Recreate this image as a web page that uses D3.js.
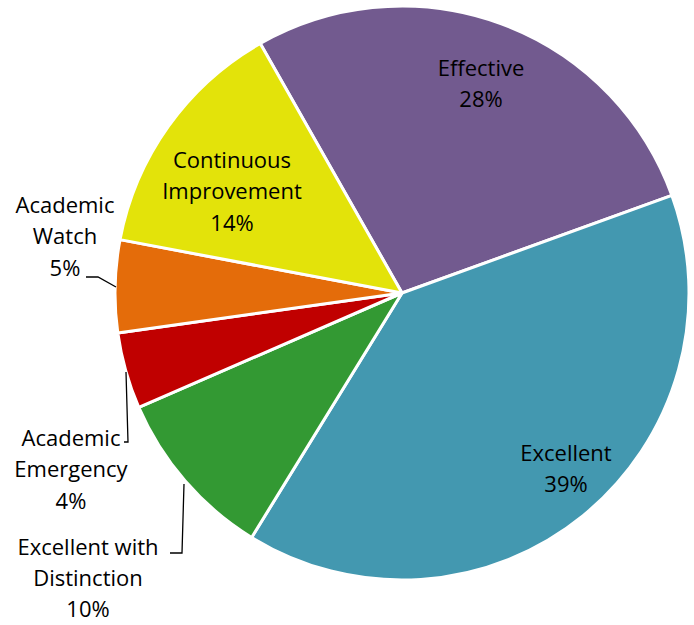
<!DOCTYPE html>
<html>
<head>
<meta charset="utf-8">
<script src="https://cdn.jsdelivr.net/npm/d3@7"></script>
<style>
  body { margin: 0; background: #fff; }
  text { font-family: "Open Sans", Lato, sans-serif; font-size: 22px; fill: #000; }
</style>
</head>
<body>
<div id="chart"></div>
<script>
// data (clockwise from the Effective slice)
const categories = ["Effective", "Excellent", "Excellent with Distinction", "Academic Emergency", "Academic Watch", "Continuous Improvement"];
const values = [27.7, 39.3, 9.7, 4.3, 5.2, 13.8];
const colors = ["#725a8f", "#4398b0", "#339933", "#c00000", "#e46c0a", "#e3e30a"];
const labelLines = [["Effective"], ["Excellent"], ["Excellent with", "Distinction"], ["Academic", "Emergency"], ["Academic", "Watch"], ["Continuous", "Improvement"]];

// label layout
const labelPos = [[481, 68], [566, 453], [88, 547], [71, 438], [65, 205], [232, 160]];
const leaders = [null, null,
  [[170, 553], [182, 553], [184, 484]],
  [[124, 442], [128, 442], [126, 372]],
  [[86, 277], [98, 277], [116, 287]],
  null];

const width = 694, height = 625;
const cx = 402, cy = 293, radius = 287;

const svg = d3.select("#chart")
    .append("svg")
    .attr("width", width)
    .attr("height", height);

const g = svg.append("g")
    .attr("transform", "translate(" + cx + "," + cy + ")");

const start = -29.6 * Math.PI / 180;
const pie = d3.pie().sort(null).startAngle(start).endAngle(start + 2 * Math.PI);
const arc = d3.arc().innerRadius(0).outerRadius(radius);

const total = d3.sum(values);
const fmt = d3.format(".0%");

g.selectAll("path")
    .data(pie(values))
  .enter().append("path")
    .attr("d", arc)
    .attr("fill", (d, i) => colors[i])
    .attr("stroke", "#fff")
    .attr("stroke-width", 3)
    .attr("stroke-linejoin", "round");

// leader lines
svg.selectAll("polyline")
    .data(leaders.filter(l => l))
  .enter().append("polyline")
    .attr("points", d => d.map(p => p.join(",")).join(" "))
    .attr("fill", "none")
    .attr("stroke", "#000")
    .attr("stroke-width", 1.3);

// labels
const lineH = 31.5;
categories.forEach((c, i) => {
  const lines = labelLines[i].concat([fmt(values[i] / total)]);
  const t = svg.append("text")
      .attr("text-anchor", "middle")
      .attr("x", labelPos[i][0])
      .attr("y", labelPos[i][1]);
  lines.forEach((s, j) => {
    t.append("tspan")
        .attr("x", labelPos[i][0])
        .attr("dy", j === 0 ? "0.35em" : (i === 2 ? 31 : lineH))
        .text(s);
  });
});
</script>
</body>
</html>
